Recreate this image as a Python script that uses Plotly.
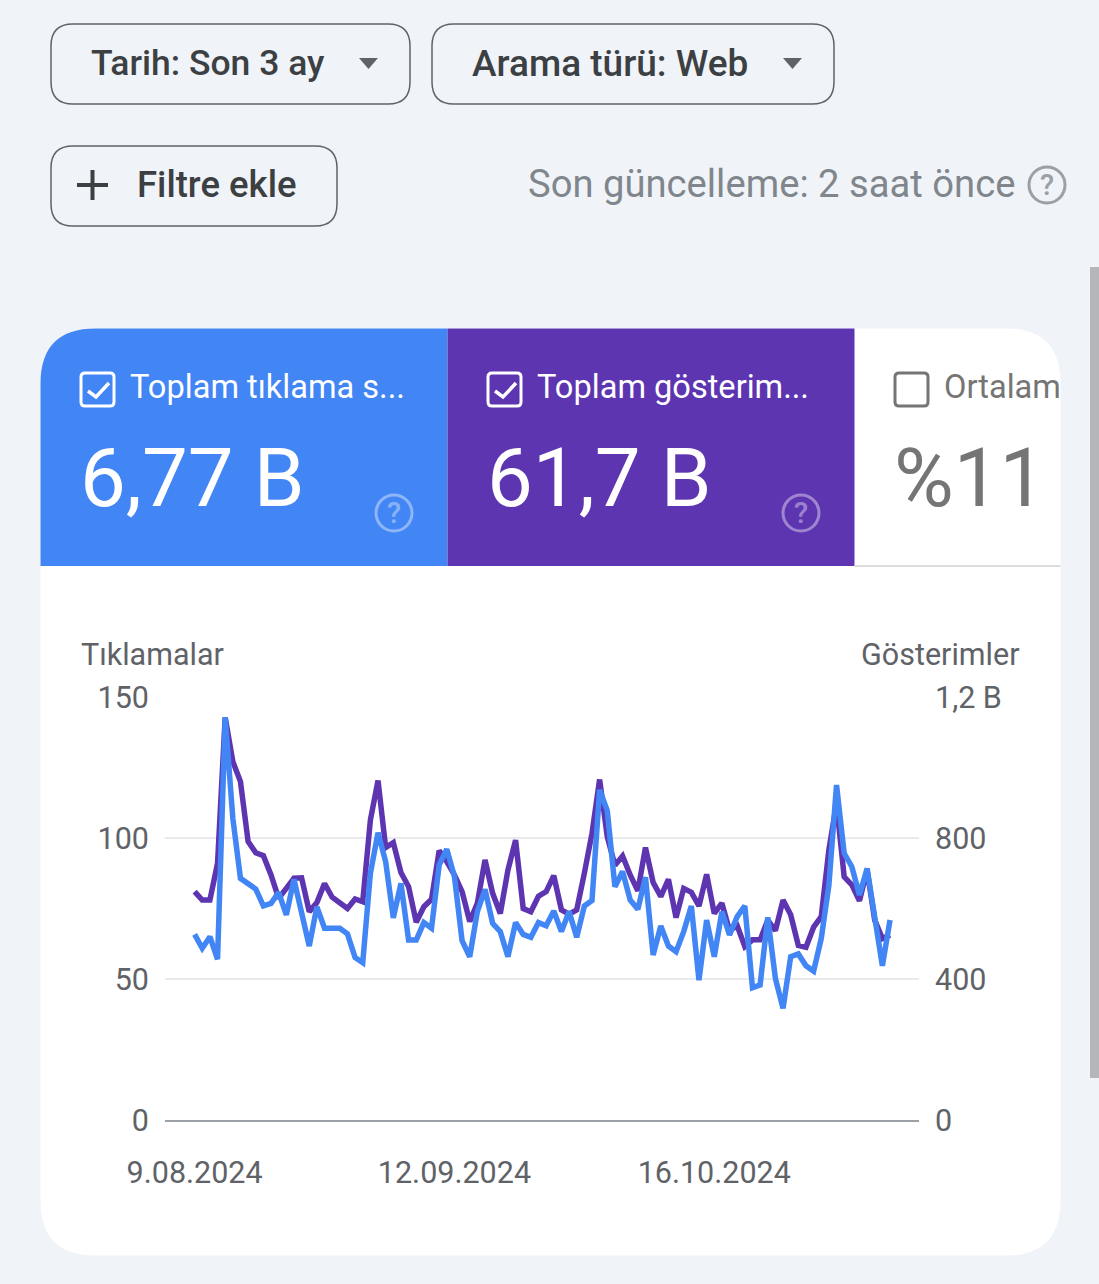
import pandas as pd
import plotly.graph_objects as go

W = 1099
H = 1284
BG = "#f0f4f9"
BLUE = "#4285f4"
PURPLE = "#5e35b1"
GREY_TEXT = "#5f6368"

# daily values
dates = pd.date_range("2024-08-09", periods=92, freq="D")
clicks = [65.8, 60.9, 65.0, 57.0, 142.8, 107.0, 85.7, 83.9, 81.9, 75.9, 76.8, 80.7, 72.7, 85.3, 73.9, 61.7,
          75.6, 68.0, 68.0, 68.0, 66.0, 57.6, 55.8, 87.5, 101.9, 91.6, 71.7, 83.9, 63.8, 63.8, 70.0, 68.0,
          90.4, 96.0, 86.3, 63.6, 57.9, 73.9, 81.8, 69.7, 66.8, 57.9, 70.0, 65.8, 64.8, 70.0, 68.9, 74.1,
          66.8, 73.9, 64.8, 75.9, 77.8, 117.0, 109.7, 82.7, 88.1, 78.0, 74.7, 86.1, 58.5, 68.8, 61.7, 59.7,
          66.8, 75.9, 49.6, 70.9, 57.9, 73.9, 65.6, 72.1, 75.9, 46.9, 47.9, 71.9, 50.2, 39.6, 57.9, 58.9,
          54.7, 52.8, 64.4, 83.3, 118.8, 94.6, 89.8, 79.8, 89.2, 70.9, 54.7, 70.9]
impressions = [648, 624, 624, 728, 1142, 1017, 960, 790, 758, 750, 695, 629, 657, 686, 687, 591,
               617, 671, 632, 617, 600, 627, 619, 851, 963, 773, 787, 702, 662, 561, 605, 626,
               764, 733, 695, 648, 563, 615, 738, 643, 586, 709, 794, 600, 591, 635, 648, 693,
               596, 584, 596, 700, 813, 966, 804, 723, 749, 695, 650, 773, 674, 634, 683, 574,
               657, 646, 607, 697, 586, 615, 537, 551, 492, 511, 511, 567, 537, 624, 582, 495,
               490, 547, 577, 766, 898, 690, 667, 622, 709, 567, 515, 525]

click_ticks = [0, 50, 100, 150]
impression_ticks = [0, 400, 800, 1200]
impression_labels = ["0", "400", "800", "1,2 B"]
date_ticks = ["2024-08-09", "2024-09-12", "2024-10-16"]
date_labels = ["9.08.2024", "12.09.2024", "16.10.2024"]


# page pixels -> paper coordinates
def px(x):
    return x / W


def py(y):
    return 1 - y / H


def rounded(x0, y0, x1, y1, tl=0, tr=0, br=0, bl=0):
    p = f"M {px(x0 + tl)} {py(y0)} L {px(x1 - tr)} {py(y0)} "
    p += f"Q {px(x1)} {py(y0)} {px(x1)} {py(y0 + tr)} L {px(x1)} {py(y1 - br)} "
    p += f"Q {px(x1)} {py(y1)} {px(x1 - br)} {py(y1)} L {px(x0 + bl)} {py(y1)} "
    p += f"Q {px(x0)} {py(y1)} {px(x0)} {py(y1 - bl)} L {px(x0)} {py(y0 + tl)} "
    p += f"Q {px(x0)} {py(y0)} {px(x0 + tl)} {py(y0)} Z"
    return p


def poly(points, close=False):
    p = "M " + " L ".join(f"{px(a)} {py(b)}" for a, b in points)
    return p + (" Z" if close else "")


shapes = []
annotations = []


def add_path(path, fill="rgba(0,0,0,0)", line="rgba(0,0,0,0)", width=0):
    shapes.append(dict(type="path", xref="paper", yref="paper", path=path, fillcolor=fill,
                       line=dict(color=line, width=width), layer="below"))


def add_text(x, y, text, size, color, anchor="left", weight=400):
    annotations.append(dict(x=px(x), y=py(y), xref="paper", yref="paper", text=text, showarrow=False,
                            xanchor=anchor, yanchor="middle", borderpad=0,
                            font=dict(family="Roboto", size=size, color=color, weight=weight)))


def add_help(x, y, r, color, width, size):
    shapes.append(dict(type="circle", xref="paper", yref="paper", x0=px(x - r), x1=px(x + r),
                       y0=py(y + r), y1=py(y - r), line=dict(color=color, width=width), layer="below"))
    add_text(x, y, "?", size, color, "center", 500)


def add_checkbox(x, y, color, checked=True):
    add_path(rounded(x, y, x + 33, y + 33, 4, 4, 4, 4), line=color, width=3)
    if checked:
        add_path(poly([(x + 7, y + 18), (x + 15, y + 24), (x + 28, y + 10)]), line=color, width=3.5)


# card and tiles
add_path(rounded(40.5, 328.5, 1060.5, 1255.5, 55, 55, 55, 55), fill="white")
add_path(rounded(40.5, 328.5, 447.5, 566, tl=55), fill=BLUE)
add_path(rounded(447.5, 328.5, 854.5, 566), fill=PURPLE)
add_path(poly([(854.5, 566), (1060.5, 566)]), line="#dadce0", width=2)

# scrollbar
add_path(rounded(1090, 267, 1099, 1078), fill="#b5b6ba")

# top buttons
add_path(rounded(51, 24, 410, 104, 22, 22, 22, 22), line=GREY_TEXT, width=1.5)
add_path(rounded(432, 24, 834, 104, 22, 22, 22, 22), line=GREY_TEXT, width=1.5)
add_path(rounded(51, 146, 337, 226, 22, 22, 22, 22), line=GREY_TEXT, width=1.5)
add_path(poly([(359, 58), (378, 58), (368.5, 69)], True), fill=GREY_TEXT)
add_path(poly([(783, 58), (802, 58), (792.5, 69)], True), fill=GREY_TEXT)
add_path(poly([(77, 185), (108, 185)]), line="#3c4043", width=4)
add_path(poly([(92.5, 170), (92.5, 200)]), line="#3c4043", width=4)

add_text(90, 63, "Tarih: Son 3 ay", 35.5, "#3c4043", weight=500)
add_text(471, 63, "Arama türü: Web", 37, "#3c4043", weight=500)
add_text(136, 185, "Filtre ekle", 36.5, "#3c4043", weight=500)
add_text(527, 184, "Son güncelleme: 2 saat önce", 38.2, "#80868b")
add_help(1047, 185, 18, "#9aa0a6", 3, 29)

# tile contents
add_checkbox(81, 373, "white")
add_checkbox(488, 373, "white")
add_checkbox(895, 373, "#757575", checked=False)
add_text(129, 387, "Toplam tıklama s...", 32.6, "white")
add_text(536, 387, "Toplam gösterim...", 32.6, "white")
add_text(943, 387, "Ortalam", 32.6, "#757575")
add_text(79, 478, "6,77 B", 81.6, "white")
add_text(486, 478, "61,7 B", 81.6, "white")
add_text(893, 478, "%11", 81.6, "#757575")
add_help(394, 513, 18, "rgba(255,255,255,0.4)", 3, 29)
add_help(801, 513, 18, "rgba(255,255,255,0.4)", 3, 29)

# axis titles
add_text(80, 654, "Tıklamalar", 30.5, GREY_TEXT)
add_text(1021, 654, "Gösterimler", 30.5, GREY_TEXT, "right")

tick_font = dict(family="Roboto", size=30.5, color=GREY_TEXT)

fig = go.Figure()
# purple sits on the base axis so the blue line is drawn over it
fig.add_trace(go.Scatter(x=dates, y=impressions, mode="lines", name="Gösterimler", yaxis="y",
                         line=dict(color=PURPLE, width=5.5, shape="linear")))
fig.add_trace(go.Scatter(x=dates, y=clicks, mode="lines", name="Tıklamalar", yaxis="y2",
                         line=dict(color=BLUE, width=5.5, shape="linear")))

fig.update_layout(
    width=W,
    height=H,
    margin=dict(l=0, r=0, t=0, b=0, pad=0),
    paper_bgcolor=BG,
    plot_bgcolor="rgba(0,0,0,0)",
    showlegend=False,
    shapes=shapes,
    annotations=annotations,
    xaxis=dict(domain=[px(165), px(919)], range=["2024-08-05 03:00", "2024-11-11 19:00"], tickvals=date_ticks,
               ticktext=date_labels, showgrid=False, zeroline=False, showline=True, linecolor="#9aa0a6",
               linewidth=2, ticks="", ticklabelstandoff=24, tickangle=0, automargin=False, tickfont=tick_font),
    yaxis=dict(domain=[py(1120), py(697)], range=[0, 1200], side="right", tickvals=impression_ticks,
               ticktext=impression_labels, showgrid=True, gridcolor="#e8eaed", gridwidth=2, zeroline=False,
               ticks="", ticklabelstandoff=15, automargin=False, tickfont=tick_font),
    yaxis2=dict(range=[0, 150], side="left", overlaying="y", tickvals=click_ticks, showgrid=False,
                zeroline=False, ticks="", ticklabelstandoff=15, automargin=False, tickfont=tick_font),
)

fig.write_html("out.html", config=dict(displayModeBar=False),
               post_script="document.body.style.margin='0';document.body.style.overflow='hidden';")
